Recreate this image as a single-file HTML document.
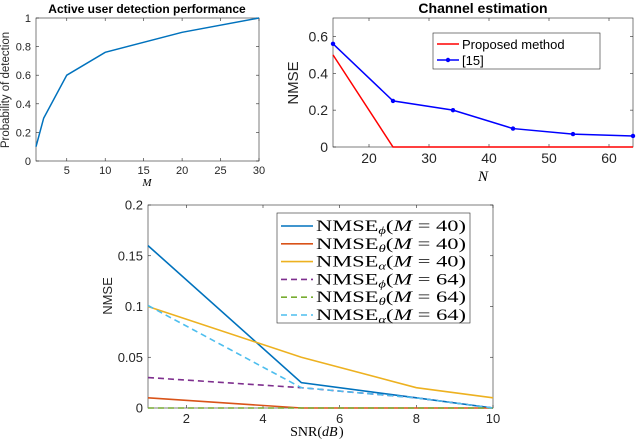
<!DOCTYPE html>
<html><head><meta charset="utf-8"><style>
body{margin:0;background:#fff;width:638px;height:440px;overflow:hidden}
svg{display:block;font-family:"Liberation Sans",sans-serif}
</style></head><body>
<svg id="s" width="638" height="440"></svg>
<script>
// Chart 1 data
const c1X=[1,2,5,10,20,30];
const c1Y=[0.1,0.3,0.6,0.76,0.9,1.0];
const c1XTicks=[5,10,15,20,25,30];
const c1YTicks=[0,0.2,0.4,0.6,0.8,1];
// Chart 2 data
const c2X=[14,24,34,44,54,64];
const c2Blue=[0.56,0.25,0.2,0.1,0.07,0.06];
const c2Red=[0.5,0,0,0,0,0];
const c2XTicks=[20,30,40,50,60];
const c2YTicks=[0,0.2,0.4,0.6];
// Chart 3 data
const c3X=[1,5,8,10];
const c3PhiM40=[0.16,0.025,0.01,0];
const c3ThetaM40=[0.01,0,0,0];
const c3AlphaM40=[0.1,0.05,0.02,0.01];
const c3PhiM64=[0.03,0.02,0.01,0];
const c3ThetaM64=[0,0,0,0];
const c3AlphaM64=[0.101,0.02,0.01,0];
const c3XTicks=[2,4,6,8,10];
const c3YTicks=[0,0.05,0.1,0.15,0.2];
const c3YLabels=["0","0.05","0.1","0.15","0.2"];

const S=document.getElementById('s');const NS='http://www.w3.org/2000/svg';
function el(t,a,p){const e=document.createElementNS(NS,t);for(const k in a)e.setAttribute(k,a[k]);(p||S).appendChild(e);return e;}
function txt(x,y,s,a){const e=el('text',Object.assign({x:x,y:y},a||{}));e.textContent=s;return e;}
function axes(L,R,T,B,xs,ys,xt,yt,ylab,g,fs){
  const box=el('rect',{x:L,y:T,width:R-L,height:B-T,fill:'none',stroke:'#262626','stroke-width':0.6},g);
  
  xt.forEach(v=>{const x=xs(v);el('line',{x1:x,x2:x,y1:B,y2:B-3,stroke:'#262626','stroke-width':0.6},g);el('line',{x1:x,x2:x,y1:T,y2:T+3,stroke:'#262626','stroke-width':0.6},g);
    const t=txt(x,B+fs+2,String(v),{'text-anchor':'middle','font-size':fs,fill:'#262626'});g.appendChild(t);});
  yt.forEach((v,i)=>{const y=ys(v);el('line',{x1:L,x2:L+3,y1:y,y2:y,stroke:'#262626','stroke-width':0.6},g);el('line',{x1:R,x2:R-3,y1:y,y2:y,stroke:'#262626','stroke-width':0.6},g);
    const t=txt(L-5,y+fs*0.36,ylab?ylab[i]:String(v),{'text-anchor':'end','font-size':fs,fill:'#262626'});g.appendChild(t);});
}
function line(xa,ya,xs,ys,col,w,dash,g,name){
  const p=el('polyline',{points:xa.map((x,i)=>xs(x)+','+ys(ya[i])).join(' '),fill:'none',stroke:col,'stroke-width':w,'stroke-dasharray':dash||'none'},g);
  return p;
}
// Chart 1
{const g=el('g',{});
const L=36,R=259,T=18,B=161;const xs=v=>L+(v-1)/(29)*(R-L);const ys=v=>B-v*(B-T);
axes(L,R,T,B,xs,ys,c1XTicks,c1YTicks,null,g,11);
line(c1X,c1Y,xs,ys,'#0072BD',1.5,null,g,'detection-line');
let t=txt(147,13,'Active user detection performance',{'text-anchor':'middle','font-size':12,'font-weight':'bold'});g.appendChild(t);
t=txt(9,90,'Probability of detection',{'text-anchor':'middle','font-size':11.5,fill:'#262626',transform:'rotate(-90 9 90)'});g.appendChild(t);
t=txt(147,186,'M',{'text-anchor':'middle','font-size':11,'font-style':'italic','font-family':'Liberation Serif'});g.appendChild(t);}
// Chart 2
{const g=el('g',{});
const L=333,R=633,T=18,B=147;const xs=v=>L+(v-14)/50*(R-L);const ys=v=>B-v/0.7*(B-T);
axes(L,R,T,B,xs,ys,c2XTicks,c2YTicks,null,g,14);
line(c2X,c2Red,xs,ys,'#ff0000',1.5,null,g,'proposed-line');
line(c2X,c2Blue,xs,ys,'#0000ff',1.5,null,g,'ref15-line');
c2X.forEach((x,i)=>{const c=el('circle',{cx:xs(x),cy:ys(c2Blue[i]),r:2.2,fill:'#0000ff'},g);});
let t=txt(483,13,'Channel estimation',{'text-anchor':'middle','font-size':14,'font-weight':'bold'});g.appendChild(t);
t=txt(298,83,'NMSE',{'text-anchor':'middle','font-size':15,fill:'#262626',transform:'rotate(-90 298 83)'});g.appendChild(t);
t=txt(483,181,'N',{'text-anchor':'middle','font-size':15,'font-style':'italic','font-family':'Liberation Serif'});g.appendChild(t);
const lg=el('g',{},g);
el('rect',{x:433,y:33,width:167,height:36,fill:'#fff',stroke:'#262626','stroke-width':0.6},lg);
el('line',{x1:437,x2:459,y1:44,y2:44,stroke:'#ff0000','stroke-width':1.5},lg);
txt(462,49,'Proposed method',{'font-size':13},lg);
el('line',{x1:437,x2:459,y1:60,y2:60,stroke:'#0000ff','stroke-width':1.5},lg);el('circle',{cx:448,cy:60,r:2.2,fill:'#0000ff'},lg);
txt(462,65,'[15]',{'font-size':13},lg);}
// Chart 3
{const g=el('g',{});
const L=148,R=493,T=205,B=408;const xs=v=>L+(v-1)/9*(R-L);const ys=v=>B-v/0.2*(B-T);
axes(L,R,T,B,xs,ys,c3XTicks,c3YTicks,c3YLabels,g,13);
const ser=[[c3PhiM40,'#0072BD',null,'nmse-phi-m40'],[c3ThetaM40,'#D95319',null,'nmse-theta-m40'],[c3AlphaM40,'#EDB120',null,'nmse-alpha-m40'],[c3PhiM64,'#7E2F8E','6 4','nmse-phi-m64'],[c3ThetaM64,'#77AC30','6 4','nmse-theta-m64'],[c3AlphaM64,'#4DBEEE','6 4','nmse-alpha-m64']];
ser.forEach(s=>line(c3X,s[0],xs,ys,s[1],1.6,s[2],g,s[3]));
let t=txt(112,296,'NMSE',{'text-anchor':'middle','font-size':13,fill:'#262626',transform:'rotate(-90 112 296)'});g.appendChild(t);
t=txt(322,436,'SNR(',{'text-anchor':'end','font-size':14,'font-family':'Liberation Serif'});g.appendChild(t);
t=txt(322,436,'dB',{'font-size':14,'font-style':'italic','font-family':'Liberation Serif'});g.appendChild(t);
t=txt(339,436,')',{'font-size':14,'font-family':'Liberation Serif'});g.appendChild(t);
const lg=el('g',{},g);
el('rect',{x:277,y:213,width:193,height:110,fill:'#fff',stroke:'#262626','stroke-width':0.6},lg);
const subs=['\u03D5','\u03B8','\u03B1','\u03D5','\u03B8','\u03B1'];const ms=['40','40','40','64','64','64'];
ser.forEach((s,i)=>{const y=226+i*17.8;el('line',{x1:281,x2:313,y1:y,y2:y,stroke:s[1],'stroke-width':1.6,'stroke-dasharray':s[2]||'none'},lg);
 const tt=el('text',{x:316,y:y+5,'font-size':15.5,'font-family':'Liberation Serif',textLength:150,lengthAdjust:'spacingAndGlyphs'},lg);
 tt.innerHTML='NMSE<tspan font-size="10" font-style="italic" dy="3">'+subs[i]+'</tspan><tspan dy="-3">(</tspan><tspan font-style="italic">M</tspan> = '+ms[i]+')';});}
</script>
</body></html>
